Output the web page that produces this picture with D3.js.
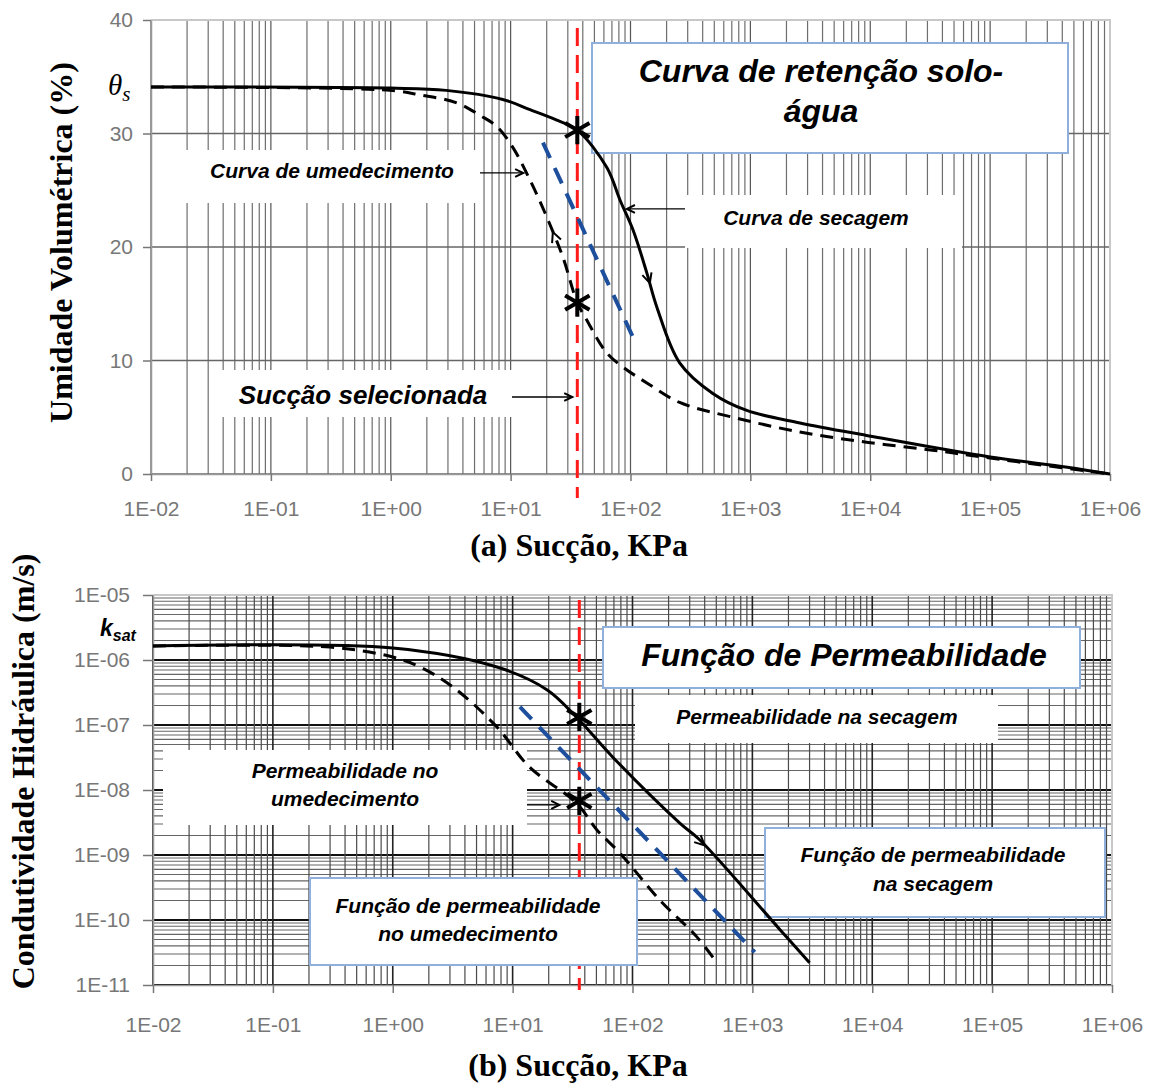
<!DOCTYPE html>
<html>
<head>
<meta charset="utf-8">
<script src="https://cdn.jsdelivr.net/npm/d3@7/dist/d3.min.js"></script>
<style>
  body { margin: 0; background: #fff; }
  svg { display: block; }
  .note { font-family: "Liberation Sans", Arial, sans-serif; font-weight: bold; font-style: italic; fill: #000; }
  .tick text { font-family: "Liberation Sans", Arial, sans-serif; fill: #777; font-size: 21px; }
  .title { font-family: "Liberation Serif", "Times New Roman", serif; font-weight: bold; fill: #000; font-size: 32px; }
</style>
</head>
<body>
<svg id="chart" width="1156" height="1084"></svg>
<script>
// ---- values ----
// (a) retention curve: suction (kPa) vs volumetric water content (%)
const thetaTicks = [0, 10, 20, 30, 40];
const suctionMajors = [1e-2, 1e-1, 1e0, 1e1, 1e2, 1e3, 1e4, 1e5, 1e6];
const dryingCurve = [[0.01, 34.1], [1, 34.0], [2.9, 33.8], [8.6, 33.0], [14.5, 32.1], [24, 31.2], [36, 30.3],
  [63.5, 27.0], [82, 24.1], [105, 21.5], [137, 17.7], [166, 14.7], [257, 9.8], [486, 7.1],
  [933, 5.6], [2590, 4.5], [9300, 3.4], [1e5, 1.5], [4.4e5, 0.6], [1e6, 0]];
const wettingCurve = [[0.01, 34.1], [0.98, 33.8], [1.75, 33.4], [3.56, 32.7], [5.55, 31.6], [7.7, 30.6],
  [10.4, 28.8], [14.5, 25.9], [20.1, 22.6], [27.3, 19.1], [36, 15.1], [43, 13.6], [63, 10.7], [87, 9.4],
  [138, 8.0], [257, 6.3], [714, 5.0], [2590, 3.7], [9300, 2.8], [33000, 2.1], [1e5, 1.4], [1e6, 0]];
const retentionTrend = [[18.6, 29.2], [112, 11.4]];
const selectedSuction = 36;
const retentionPoints = [30.3, 15.1];

// (b) hydraulic conductivity (m/s) vs suction (kPa)
const conductivityMajors = [1e-11, 1e-10, 1e-9, 1e-8, 1e-7, 1e-6, 1e-5];
const dryingK = [[0.01, 1.64e-6], [1, 1.53e-6], [7.4, 7.8e-7], [19.3, 3.5e-7], [34, 1.33e-7], [68.5, 3.2e-8],
  [248, 3.1e-9], [365, 1.7e-9], [1700, 7.1e-11], [3000, 2.2e-11]];
const wettingK = [[0.01, 1.64e-6], [0.3, 1.58e-6], [1, 1.11e-6], [1.69, 7.8e-7], [3.17, 3.85e-7], [7.4, 9.3e-8],
  [13.8, 2.26e-8], [34, 6.3e-9], [50.5, 2.43e-9], [78.5, 1.07e-9], [170, 2.0e-10], [344, 5.5e-11], [500, 2.26e-11]];
const conductivityTrend = [[11.5, 1.9e-7], [1047, 3.2e-11]];
const conductivityPoints = [1.33e-7, 6.8e-9];

const svg = d3.select('#chart');

const fmtE = v => {
  const e = Math.round(Math.log10(v));
  return '1E' + (e < 0 ? '-' : '+') + String(Math.abs(e)).padStart(2, '0');
};
const isMajor = v => Math.abs(Math.log10(v) - Math.round(Math.log10(v))) < 1e-6;

// value on a curve at suction s (linear in log-suction)
function along(data, s, logY) {
  const xs = data.map(d => Math.log10(d[0]));
  const ys = data.map(d => logY ? Math.log10(d[1]) : d[1]);
  const v = d3.scaleLinear().domain(xs).range(ys)(Math.log10(s));
  return logY ? Math.pow(10, v) : v;
}

// chevron arrow head, apex at (x2,y2)
function chevron(g, x1, y1, x2, y2, len) {
  const a = Math.atan2(y2 - y1, x2 - x1);
  const p1 = [x2 - len * Math.cos(a - 0.45), y2 - len * Math.sin(a - 0.45)];
  const p2 = [x2 - len * Math.cos(a + 0.45), y2 - len * Math.sin(a + 0.45)];
  g.append('path')
    .attr('d', `M${p1}L${x2},${y2}L${p2}`)
    .attr('fill', 'none').attr('stroke', '#000').attr('stroke-width', 2);
}

function noteBox(g, n) {
  g.append('rect')
    .attr('x', n.x).attr('y', n.y).attr('width', n.w).attr('height', n.h)
    .attr('fill', '#fff')
    .attr('stroke', n.border ? '#8fb0da' : 'none').attr('stroke-width', 2);
}
function noteText(g, n) {
  n.lines.forEach((t, i) => {
    g.append('text').attr('class', 'note')
      .attr('x', n.cx).attr('y', n.base[i])
      .attr('text-anchor', 'middle')
      .style('font-size', n.size + 'px')
      .text(t);
  });
}

// ================= panel (a) =================
const xA = d3.scaleLog().domain([1e-2, 1e6]).range([151, 1110]);
const yA = d3.scaleLinear().domain([0, 40]).range([474, 20]);
const gA = svg.append('g');

gA.append('g').selectAll('line').data(xA.ticks()).join('line')
  .attr('x1', d => xA(d)).attr('x2', d => xA(d))
  .attr('y1', yA(40)).attr('y2', yA(0))
  .attr('stroke', d => isMajor(d) ? '#555' : '#6e6e6e')
  .attr('stroke-width', 1.2);
gA.append('g').selectAll('line').data(thetaTicks).join('line')
  .attr('x1', xA(1e-2)).attr('x2', xA(1e6))
  .attr('y1', d => yA(d)).attr('y2', d => yA(d))
  .attr('stroke', '#666').attr('stroke-width', 1.3);

// frame
gA.append('path')
  .attr('d', `M${xA(1e-2)},${yA(40)}H${xA(1e6)}V${yA(0)}`)
  .attr('fill', 'none').attr('stroke', '#c8c8c8').attr('stroke-width', 2);

const axLA = gA.append('g').attr('transform', `translate(${xA(1e-2)},0)`)
  .call(d3.axisLeft(yA).tickValues(thetaTicks).tickSizeInner(8).tickSizeOuter(0).tickPadding(10).tickFormat(d3.format('d')));
const axBA = gA.append('g').attr('transform', `translate(0,${yA(0)})`)
  .call(d3.axisBottom(xA).tickValues(suctionMajors).tickSizeInner(7).tickSizeOuter(0).tickPadding(20).tickFormat(fmtE));
[axLA, axBA].forEach(ax => {
  ax.select('.domain').attr('stroke', '#999').attr('stroke-width', 1.5);
  ax.selectAll('.tick line').attr('stroke', '#777').attr('stroke-width', 1.5);
});

// selected suction line
gA.append('line')
  .attr('x1', xA(selectedSuction)).attr('x2', xA(selectedSuction))
  .attr('y1', 28).attr('y2', 498)
  .attr('stroke', '#ff1a1a').attr('stroke-width', 3).attr('stroke-dasharray', '18,9');

const notesA = [
  { x: 592, y: 43, w: 476, h: 110, border: true, lines: ['Curva de retenção solo-', 'água'], size: 32, cx: 821, base: [82, 122] },
  { x: 153, y: 150, w: 325, h: 53, lines: ['Curva de umedecimento'], size: 21, cx: 332, base: [178] },
  { x: 685, y: 195, w: 277, h: 53, lines: ['Curva de secagem'], size: 21, cx: 816, base: [225] },
  { x: 215, y: 370, w: 297, h: 47, lines: ['Sucção selecionada'], size: 26, cx: 363, base: [404] }
];
notesA.forEach(n => noteBox(gA, n));

const lineA = d3.line().x(d => xA(d[0])).y(d => yA(d[1])).curve(d3.curveCatmullRom.alpha(0.5));
gA.append('path').datum(dryingCurve).attr('d', lineA)
  .attr('fill', 'none').attr('stroke', '#000').attr('stroke-width', 3);
gA.append('path').datum(wettingCurve).attr('d', lineA)
  .attr('fill', 'none').attr('stroke', '#000').attr('stroke-width', 3).attr('stroke-dasharray', '13,8');
gA.append('path').datum(retentionTrend).attr('d', lineA)
  .attr('fill', 'none').attr('stroke', '#1d4f9c').attr('stroke-width', 4).attr('stroke-dasharray', '17,11');

gA.selectAll('.star').data(retentionPoints).join('path').attr('class', 'star')
  .attr('transform', d => `translate(${xA(selectedSuction)},${yA(d)})`)
  .attr('d', d3.symbol(d3.symbolAsterisk, 560))
  .attr('fill', 'none').attr('stroke', '#000').attr('stroke-width', 4);

// pointers
const pA = gA.append('g');
{
  const yW = yA(along(wettingCurve, 13.5));
  pA.append('line').attr('x1', 480).attr('x2', xA(13.5) - 3).attr('y1', yW).attr('y2', yW).attr('stroke', '#000').attr('stroke-width', 1.3);
  chevron(pA, 480, yW, xA(13.5) - 3, yW, 9);
  const yD = yA(along(dryingCurve, 88));
  pA.append('line').attr('x1', 685).attr('x2', xA(88) + 3).attr('y1', yD).attr('y2', yD).attr('stroke', '#000').attr('stroke-width', 1.3);
  chevron(pA, 685, yD, xA(88) + 3, yD, 9);
  pA.append('line').attr('x1', 512).attr('x2', xA(selectedSuction) - 5).attr('y1', 397).attr('y2', 397).attr('stroke', '#000').attr('stroke-width', 1.3);
  chevron(pA, 512, 397, xA(selectedSuction) - 5, 397, 9);
  // direction marks on the curves
  chevron(pA, xA(128), yA(along(dryingCurve, 128)), xA(145), yA(along(dryingCurve, 145)), 11);
  chevron(pA, xA(27), yA(along(wettingCurve, 27)), xA(22.5), yA(along(wettingCurve, 22.5)), 11);
}
notesA.forEach(n => noteText(gA, n));

// theta_s label
const thA = gA.append('text').attr('x', 108).attr('y', 95)
  .style('font-family', '"Liberation Serif", "Times New Roman", serif').style('font-style', 'italic').style('font-size', '29px');
thA.append('tspan').text('θ');
thA.append('tspan').attr('dy', 6).style('font-size', '21px').text('s');

gA.append('text').attr('class', 'title')
  .attr('transform', `translate(72,${(60 + 425) / 2}) rotate(-90)`)
  .attr('text-anchor', 'middle').text('Umidade Volumétrica (%)');
gA.append('text').attr('class', 'title')
  .attr('x', 579).attr('y', 556).attr('text-anchor', 'middle').text('(a) Sucção, KPa');

// ================= panel (b) =================
const xB = d3.scaleLog().domain([1e-2, 1e6]).range([153, 1112]);
const yB = d3.scaleLog().domain([1e-11, 1e-5]).range([985, 595]);
const gB = svg.append('g');

gB.append('g').selectAll('line').data(yB.ticks()).join('line')
  .attr('x1', xB(1e-2)).attr('x2', xB(1e6))
  .attr('y1', d => yB(d)).attr('y2', d => yB(d))
  .attr('stroke', d => isMajor(d) ? '#111' : '#666')
  .attr('stroke-width', d => isMajor(d) ? 1.8 : 1.1);
gB.append('g').selectAll('line').data(xB.ticks()).join('line')
  .attr('x1', d => xB(d)).attr('x2', d => xB(d))
  .attr('y1', yB(1e-5)).attr('y2', yB(1e-11))
  .attr('stroke', d => isMajor(d) ? '#222' : '#4a4a4a')
  .attr('stroke-width', d => isMajor(d) ? 1.6 : 1.2);

gB.append('path')
  .attr('d', `M${xB(1e-2)},${yB(1e-5)}H${xB(1e6)}V${yB(1e-11)}`)
  .attr('fill', 'none').attr('stroke', '#c8c8c8').attr('stroke-width', 2);

const axLB = gB.append('g').attr('transform', `translate(${xB(1e-2)},0)`)
  .call(d3.axisLeft(yB).tickValues(conductivityMajors).tickSizeInner(10).tickSizeOuter(0).tickPadding(13).tickFormat(fmtE));
const axBB = gB.append('g').attr('transform', `translate(0,${yB(1e-11)})`)
  .call(d3.axisBottom(xB).tickValues(suctionMajors).tickSizeInner(8).tickSizeOuter(0).tickPadding(24).tickFormat(fmtE));
[axLB, axBB].forEach(ax => {
  ax.select('.domain').attr('stroke', '#999').attr('stroke-width', 1.5);
  ax.selectAll('.tick line').attr('stroke', '#777').attr('stroke-width', 1.5);
});

gB.append('line')
  .attr('x1', xB(selectedSuction)).attr('x2', xB(selectedSuction))
  .attr('y1', 600).attr('y2', 990)
  .attr('stroke', '#ff1a1a').attr('stroke-width', 3).attr('stroke-dasharray', '18,9');

const notesB = [
  { x: 603, y: 627, w: 477, h: 61, border: true, lines: ['Função de Permeabilidade'], size: 32, cx: 844, base: [666] },
  { x: 635, y: 695, w: 363, h: 48, lines: ['Permeabilidade na secagem'], size: 21, cx: 817, base: [724] },
  { x: 163, y: 750, w: 364, h: 75, lines: ['Permeabilidade no', 'umedecimento'], size: 21, cx: 345, base: [778, 806] },
  { x: 310, y: 878, w: 327, h: 87, border: true, lines: ['Função de permeabilidade', 'no umedecimento'], size: 21, cx: 468, base: [913, 941] },
  { x: 765, y: 828, w: 340, h: 89, border: true, lines: ['Função de permeabilidade', 'na secagem'], size: 21, cx: 933, base: [862, 891] }
];
notesB.forEach(n => noteBox(gB, n));

const lineB = d3.line().x(d => xB(d[0])).y(d => yB(d[1])).curve(d3.curveCatmullRom.alpha(0.5));
gB.append('path').datum(dryingK).attr('d', lineB)
  .attr('fill', 'none').attr('stroke', '#000').attr('stroke-width', 3);
gB.append('path').datum(wettingK).attr('d', lineB)
  .attr('fill', 'none').attr('stroke', '#000').attr('stroke-width', 3).attr('stroke-dasharray', '13,8');
gB.append('path').datum(conductivityTrend).attr('d', lineB)
  .attr('fill', 'none').attr('stroke', '#1d4f9c').attr('stroke-width', 4).attr('stroke-dasharray', '17,11');

gB.selectAll('.star').data(conductivityPoints).join('path').attr('class', 'star')
  .attr('transform', d => `translate(${xB(selectedSuction)},${yB(d)})`)
  .attr('d', d3.symbol(d3.symbolAsterisk, 560))
  .attr('fill', 'none').attr('stroke', '#000').attr('stroke-width', 4);

const pB = gB.append('g');
{
  const yW = yB(conductivityPoints[1]);
  pB.append('line').attr('x1', 527).attr('x2', xB(selectedSuction) - 20).attr('y1', yW + 4).attr('y2', yW + 4).attr('stroke', '#000').attr('stroke-width', 1.3);
  chevron(pB, 527, yW + 4, xB(selectedSuction) - 20, yW + 4, 9);
  chevron(pB, xB(300), yB(along(dryingK, 300, true)), xB(400), yB(along(dryingK, 400, true)), 11);
}
notesB.forEach(n => noteText(gB, n));

const ks = gB.append('text').attr('x', 100).attr('y', 636).attr('class', 'note').style('font-size', '23px');
ks.append('tspan').text('k');
ks.append('tspan').attr('dy', 5).style('font-size', '16px').text('sat');

gB.append('text').attr('class', 'title')
  .attr('transform', `translate(34,${(553 + 990) / 2}) rotate(-90)`)
  .attr('text-anchor', 'middle').text('Condutividade Hidráulica (m/s)');
gB.append('text').attr('class', 'title')
  .attr('x', 578).attr('y', 1076).attr('text-anchor', 'middle').text('(b) Sucção, KPa');
</script>
</body>
</html>
